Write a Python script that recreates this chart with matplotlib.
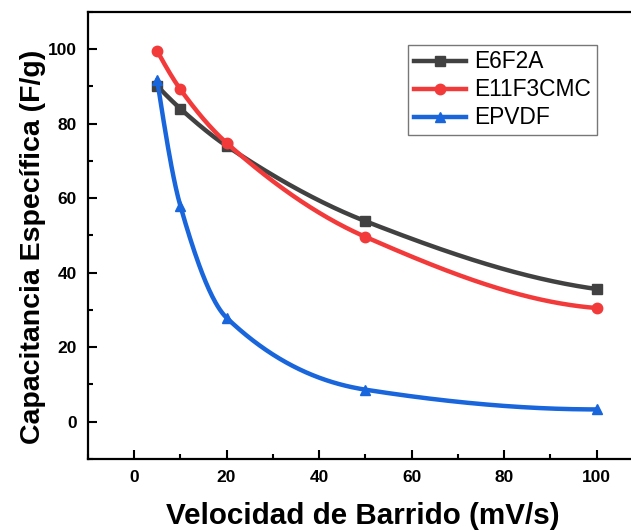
import numpy as np
import matplotlib
matplotlib.use("Agg")
import matplotlib.pyplot as plt
from matplotlib.ticker import MultipleLocator

plt.rcParams['font.family'] = ['Liberation Sans', 'DejaVu Sans']

# scan rate (mV/s) and specific capacitance (F/g)
scan_rate = [5, 10, 20, 50, 100]
e6f2a = [90.1, 84.0, 74.0, 53.8, 35.6]
e11f3cmc = [99.5, 89.2, 74.8, 49.6, 30.5]
epvdf = [91.7, 58.0, 27.9, 8.6, 3.3]

names = ['E6F2A', 'E11F3CMC', 'EPVDF']
colors = ['#414141', '#f23a3a', '#1865dc']
markers = ['s', 'o', '^']


def pchip(x, y, xs):
    # monotone cubic interpolation so the curves don't overshoot
    x = np.asarray(x, float)
    y = np.asarray(y, float)
    h = np.diff(x)
    d = np.diff(y) / h
    m = np.zeros_like(y)
    for k in range(1, len(x) - 1):
        if d[k - 1] * d[k] > 0:
            w1 = 2 * h[k] + h[k - 1]
            w2 = h[k] + 2 * h[k - 1]
            m[k] = (w1 + w2) / (w1 / d[k - 1] + w2 / d[k])
    m[0] = ((2 * h[0] + h[1]) * d[0] - h[0] * d[1]) / (h[0] + h[1])
    if np.sign(m[0]) != np.sign(d[0]):
        m[0] = 0
    m[-1] = ((2 * h[-1] + h[-2]) * d[-1] - h[-1] * d[-2]) / (h[-1] + h[-2])
    if np.sign(m[-1]) != np.sign(d[-1]):
        m[-1] = 0
    idx = np.clip(np.searchsorted(x, xs) - 1, 0, len(x) - 2)
    t = (xs - x[idx]) / h[idx]
    h00 = 2 * t**3 - 3 * t**2 + 1
    h10 = t**3 - 2 * t**2 + t
    h01 = -2 * t**3 + 3 * t**2
    h11 = t**3 - t**2
    return h00 * y[idx] + h10 * h[idx] * m[idx] + h01 * y[idx + 1] + h11 * h[idx] * m[idx + 1]


fig = plt.figure(figsize=(6.31, 5.31), dpi=100)
ax = fig.add_axes([0.139, 0.1356, 0.861, 0.8424])

xs = np.linspace(scan_rate[0], scan_rate[-1], 400)
for ys, name, c, mk in zip([e6f2a, e11f3cmc, epvdf], names, colors, markers):
    ax.plot(xs, pchip(scan_rate, ys, xs), color=c, lw=3.2, solid_capstyle='round')
    ax.plot(scan_rate, ys, linestyle='none', marker=mk, color=c, markersize=7.5)
    # legend proxy: line with marker
    ax.plot([], [], color=c, lw=3.2, marker=mk, markersize=7.5, label=name)

ax.set_xlim(-10, 107.4)
ax.set_ylim(-10, 110)
ax.xaxis.set_minor_locator(MultipleLocator(10))
ax.yaxis.set_minor_locator(MultipleLocator(10))
ax.set_xticks(range(0, 101, 20))
ax.set_yticks(range(0, 101, 20))

ax.tick_params(which='major', direction='in', length=6.5, width=1.5, labelsize=12.5, pad=8)
ax.tick_params(which='minor', direction='in', length=3.5, width=1.5)
ax.tick_params(top=False, right=False, which='both')
for lbl in ax.get_xticklabels() + ax.get_yticklabels():
    lbl.set_fontweight('bold')

for side in ['left', 'bottom', 'top']:
    ax.spines[side].set_linewidth(1.6)
ax.spines['right'].set_visible(False)

ax.set_xlabel('Velocidad de Barrido (mV/s)', fontsize=21.3, fontweight='bold', labelpad=12)
ax.xaxis.label.set_x(0.507)
ax.set_ylabel('Capacitancia Específica (F/g)', fontsize=20.5, fontweight='bold', labelpad=1.5)
ax.yaxis.label.set_y(0.475)

leg = ax.legend(loc='upper left', bbox_to_anchor=(0.5895, 0.926), fontsize=16.4,
                frameon=True, fancybox=False, edgecolor='#555555',
                handlelength=2.3, handletextpad=0.35, borderpad=0.25,
                labelspacing=0.22, borderaxespad=0)
leg.get_frame().set_linewidth(1.0)

fig.savefig('out.png', dpi=100)
